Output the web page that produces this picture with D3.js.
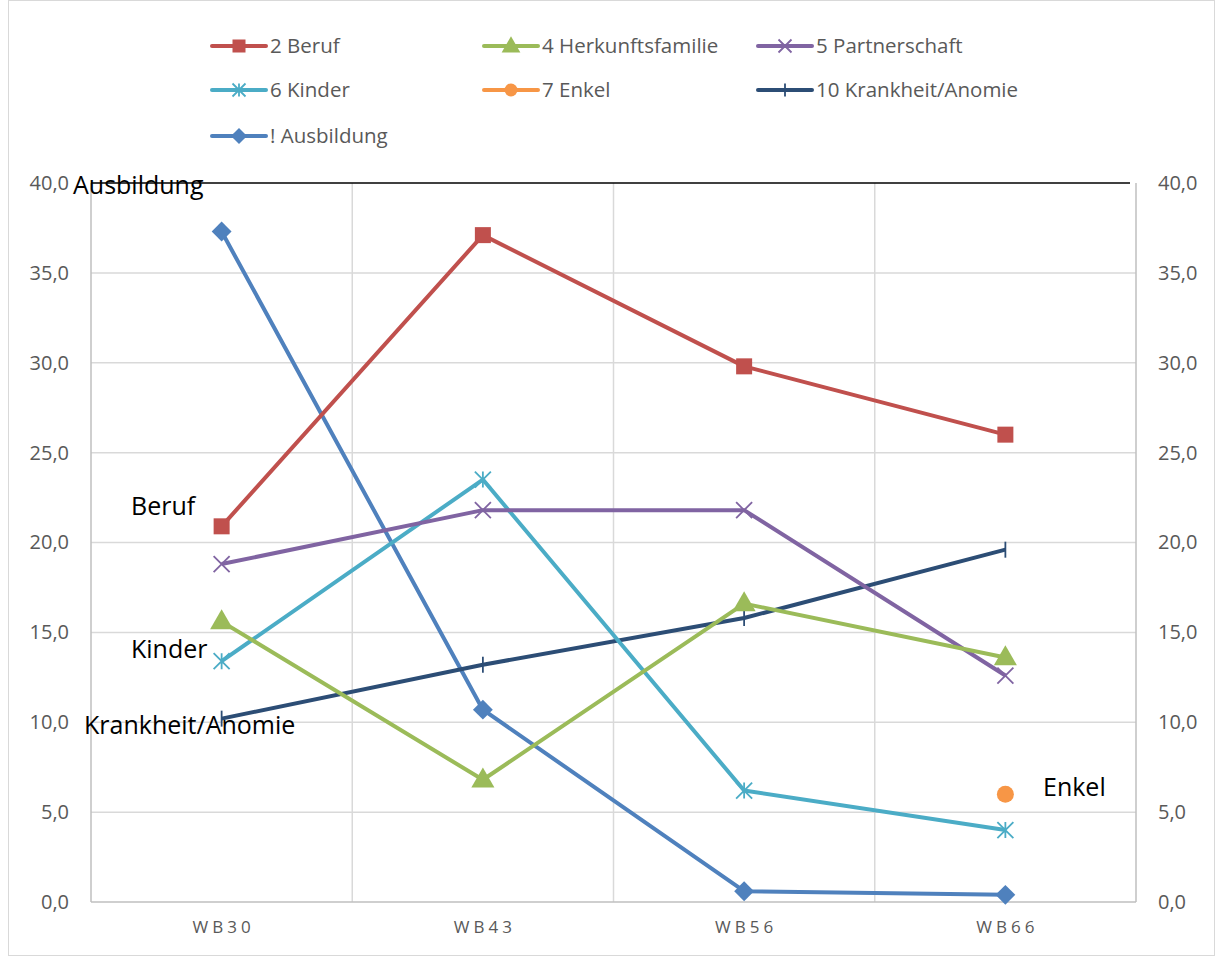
<!DOCTYPE html>
<meta charset="utf-8">
<head>
  <script src="https://cdn.jsdelivr.net/npm/d3@7"></script>
  <style>
    body { margin: 0; background: #fff; }
    .lbl { font-family: "Open Sans", sans-serif; font-size: 25px; fill: #000; }
    .leg text { font-family: "Open Sans", sans-serif; font-size: 20.5px; fill: #595959; }
  </style>
</head>
<body>
  <div id="viz"></div>
  <script>
    // categories and values
    var categories = ["WB30", "WB43", "WB56", "WB66"];
    var beruf = [20.9, 37.1, 29.8, 26.0];
    var herkunft = [15.6, 6.8, 16.6, 13.6];
    var partner = [18.8, 21.8, 21.8, 12.6];
    var kinder = [13.4, 23.5, 6.2, 4.0];
    var enkel = [null, null, null, 6.0];
    var krankheit = [10.2, 13.2, 15.8, 19.6];
    var ausbildung = [37.3, 10.7, 0.6, 0.4];
    var yTicks = [0, 5, 10, 15, 20, 25, 30, 35, 40];

    var series = [
      { name: "2 Beruf", values: beruf, color: "#C0504D", marker: "square" },
      { name: "4 Herkunftsfamilie", values: herkunft, color: "#9BBB59", marker: "triangle" },
      { name: "5 Partnerschaft", values: partner, color: "#8064A2", marker: "x" },
      { name: "6 Kinder", values: kinder, color: "#4BACC6", marker: "star" },
      { name: "7 Enkel", values: enkel, color: "#F79646", marker: "circle" },
      { name: "10 Krankheit/Anomie", values: krankheit, color: "#2C4D75", marker: "plus" },
      { name: "! Ausbildung", values: ausbildung, color: "#4F81BD", marker: "diamond" }
    ];

    var W = 1215, H = 956;
    var svg = d3.select("#viz").append("svg")
      .attr("width", W).attr("height", H);

    svg.append("rect")
      .attr("x", 8.5).attr("y", 0.5).attr("width", W - 9).attr("height", H - 1)
      .attr("fill", "#fff").attr("stroke", "#d9d9d9");

    var mLeft = 91, mRight = 1136, mTop = 183, mBottom = 902;

    var x = d3.scaleBand().domain(categories).range([mLeft, mRight]);
    var y = d3.scaleLinear().domain([0, 40]).range([mBottom, mTop]);
    var cx = function(i) { return x(categories[i]) + x.bandwidth() / 2; };

    // horizontal grid
    svg.append("g").selectAll("line")
      .data(yTicks.slice(1, -1)).enter().append("line")
      .attr("x1", mLeft).attr("x2", mRight)
      .attr("y1", function(d) { return y(d); }).attr("y2", function(d) { return y(d); })
      .attr("stroke", "#d9d9d9").attr("stroke-width", 1.5);

    // vertical grid at band boundaries
    svg.append("g").selectAll("line")
      .data(categories.slice(1)).enter().append("line")
      .attr("x1", function(d) { return x(d); }).attr("x2", function(d) { return x(d); })
      .attr("y1", mTop).attr("y2", mBottom)
      .attr("stroke", "#d9d9d9").attr("stroke-width", 1.5);

    // frame lines
    svg.append("line").attr("x1", mRight).attr("x2", mRight).attr("y1", mTop).attr("y2", mBottom)
      .attr("stroke", "#bfbfbf").attr("stroke-width", 1.5);
    svg.append("line").attr("x1", mLeft).attr("x2", mLeft).attr("y1", mTop).attr("y2", mBottom)
      .attr("stroke", "#bfbfbf").attr("stroke-width", 1.5);
    svg.append("line").attr("x1", mLeft).attr("x2", mRight).attr("y1", mBottom).attr("y2", mBottom)
      .attr("stroke", "#bfbfbf").attr("stroke-width", 1.5);
    svg.append("line").attr("x1", mLeft).attr("x2", mRight - 6).attr("y1", mTop).attr("y2", mTop)
      .attr("stroke", "#000").attr("stroke-width", 1.5);

    // axes
    var fmt = function(d) { return d3.format(".1f")(d).replace(".", ","); };
    var yl = svg.append("g").attr("transform", "translate(" + mLeft + ",0)")
      .call(d3.axisLeft(y).tickValues(yTicks).tickFormat(fmt).tickSize(0).tickPadding(22));
    var yr = svg.append("g").attr("transform", "translate(" + mRight + ",0)")
      .call(d3.axisRight(y).tickValues(yTicks).tickFormat(fmt).tickSize(0).tickPadding(22));
    var xa = svg.append("g").attr("transform", "translate(0," + mBottom + ")")
      .call(d3.axisBottom(x).tickSize(0).tickPadding(19));
    [yl, yr, xa].forEach(function(a) {
      a.select(".domain").remove();
      a.selectAll("text").attr("font-family", "Open Sans, sans-serif").attr("fill", "#595959");
    });
    yl.selectAll("text").attr("font-size", 20);
    yr.selectAll("text").attr("font-size", 20);
    xa.selectAll("text").attr("font-size", 17).attr("letter-spacing", "4px").attr("dx", "2px");

    function drawMarker(g, type, color, px, py, s) {
      if (type === "square") {
        g.append("rect").attr("x", px - s / 2).attr("y", py - s / 2)
          .attr("width", s).attr("height", s).attr("fill", color);
      } else if (type === "triangle") {
        g.append("path").attr("d", d3.symbol().type(d3.symbolTriangle).size(s * s * 0.9)())
          .attr("transform", "translate(" + px + "," + (py + 1) + ")").attr("fill", color);
      } else if (type === "diamond") {
        var r = s * 0.62;
        g.append("path").attr("d", "M" + px + "," + (py - r) + "L" + (px + r) + "," + py +
          "L" + px + "," + (py + r) + "L" + (px - r) + "," + py + "Z").attr("fill", color);
      } else if (type === "circle") {
        g.append("circle").attr("cx", px).attr("cy", py).attr("r", s / 2).attr("fill", color);
      } else if (type === "x") {
        var h = s / 2;
        g.append("path").attr("d", "M" + (px - h) + "," + (py - h) + "L" + (px + h) + "," + (py + h) +
          "M" + (px + h) + "," + (py - h) + "L" + (px - h) + "," + (py + h))
          .attr("stroke", color).attr("stroke-width", 1.8).attr("fill", "none");
      } else if (type === "star") {
        var h2 = s / 2;
        g.append("path").attr("d", "M" + (px - h2) + "," + (py - h2) + "L" + (px + h2) + "," + (py + h2) +
          "M" + (px + h2) + "," + (py - h2) + "L" + (px - h2) + "," + (py + h2) +
          "M" + px + "," + (py - h2) + "L" + px + "," + (py + h2))
          .attr("stroke", color).attr("stroke-width", 1.8).attr("fill", "none");
      } else if (type === "plus") {
        var h3 = s / 2;
        g.append("path").attr("d", "M" + px + "," + (py - h3) + "L" + px + "," + (py + h3))
          .attr("stroke", color).attr("stroke-width", 1.8).attr("fill", "none");
      }
    }

    var line = d3.line()
      .defined(function(d) { return d != null; })
      .x(function(d, i) { return cx(i); })
      .y(function(d) { return y(d); });

    // draw order: Ausbildung underneath
    var order = [6, 5, 4, 3, 2, 1, 0];
    order.forEach(function(k) {
      var s = series[k];
      var g = svg.append("g");
      g.append("path").datum(s.values).attr("d", line)
        .attr("fill", "none").attr("stroke", s.color).attr("stroke-width", 4)
        .attr("stroke-linejoin", "round");
      s.values.forEach(function(v, i) {
        if (v == null) return;
        drawMarker(g, s.marker, s.color, cx(i), y(v), s.marker === "circle" ? 17 : 16);
      });
    });

    // legend
    var legCols = [212, 484, 758];
    var legRows = [46, 90, 136];
    series.forEach(function(s, i) {
      var lx = legCols[i % 3], ly = legRows[Math.floor(i / 3)];
      var g = svg.append("g").attr("class", "leg");
      g.append("line").attr("x1", lx).attr("x2", lx + 54).attr("y1", ly).attr("y2", ly)
        .attr("stroke", s.color).attr("stroke-width", 4).attr("stroke-linecap", "round");
      drawMarker(g, s.marker, s.color, lx + 27, ly, 13);
      g.append("text").attr("x", lx + 58).attr("y", ly).attr("dy", "0.35em").text(s.name);
    });

    // free-standing labels
    var labels = [
      { t: "Ausbildung", x: 73, y: 185 },
      { t: "Beruf", x: 131, y: 506 },
      { t: "Kinder", x: 131, y: 649 },
      { t: "Krankheit/Anomie", x: 84, y: 725 },
      { t: "Enkel", x: 1043, y: 787 }
    ];
    svg.selectAll(".lbl").data(labels).enter().append("text")
      .attr("class", "lbl")
      .attr("x", function(d) { return d.x; })
      .attr("y", function(d) { return d.y; })
      .attr("dy", "0.35em")
      .text(function(d) { return d.t; });
  </script>
</body>
